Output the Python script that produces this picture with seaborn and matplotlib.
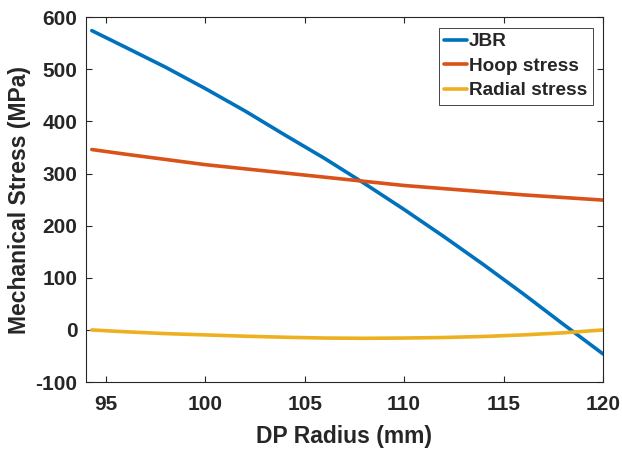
import matplotlib
matplotlib.use("Agg")
import matplotlib.pyplot as plt
import seaborn as sns
import pandas as pd

radius = [94.3, 96, 98, 100, 102, 104, 106, 108, 110, 112, 114, 116, 118, 120]
jbr = [574, 542, 504, 463, 420, 374, 329, 281, 231, 179, 125, 69, 11, -46]
hoop = [346, 337, 327, 317, 309, 301, 293, 285, 277, 271, 265, 259, 254, 249]
radial = [0, -3.5, -7, -9.5, -12, -14, -15.5, -16, -15.5, -14.5, -12.5, -9.5, -5.5, 0]
series_names = ["JBR", "Hoop stress", "Radial stress"]
colors = ["#0072BD", "#D95319", "#EDB120"]
xticks = [95, 100, 105, 110, 115, 120]
yticks = [-100, 0, 100, 200, 300, 400, 500, 600]

df = pd.DataFrame({
    "r": radius * 3,
    "v": jbr + hoop + radial,
    "s": [series_names[0]] * len(radius) + [series_names[1]] * len(radius) + [series_names[2]] * len(radius),
})

sns.set_style("ticks")
plt.rcParams["font.family"] = ["Liberation Sans", "DejaVu Sans"]
plt.rcParams["font.weight"] = "bold"
plt.rcParams["axes.unicode_minus"] = False

fig = plt.figure(figsize=(6.22, 4.49), dpi=100)
ax = fig.add_axes([0.138, 0.149, 0.9695 - 0.138, 0.962 - 0.149])
sns.lineplot(data=df, x="r", y="v", hue="s", hue_order=series_names,
             palette=colors, linewidth=2.6, ax=ax, sort=False)

ax.set_xlim(94.0, 120)
ax.set_ylim(-100, 600)
ax.set_xticks(xticks)
ax.set_yticks(yticks)
ax.set_xlabel("DP Radius (mm)", fontsize=16.5, fontweight="bold", color="#262626", va="center")
ax.set_ylabel("Mechanical Stress (MPa)", fontsize=16.5, fontweight="bold", color="#262626", va="center")
ax.xaxis.set_label_coords(0.5, -0.15)
ax.yaxis.set_label_coords(-0.128, 0.5)
ax.tick_params(direction="in", top=True, right=True, labelsize=15, length=4,
               color="#262626", labelcolor="#262626", width=0.8)
ax.tick_params(axis="x", pad=9.5)
ax.tick_params(axis="y", pad=6)
for lab in ax.get_xticklabels() + ax.get_yticklabels():
    lab.set_fontweight("bold")
for sp in ax.spines.values():
    sp.set_visible(True)
    sp.set_color("#262626")
    sp.set_linewidth(0.8)

leg = ax.legend(loc="upper right", fontsize=13.7, frameon=True, fancybox=False,
                handlelength=1.2, handletextpad=0.1, borderpad=0.28, labelspacing=0.38,
                borderaxespad=0.55, edgecolor="#262626", framealpha=1)
leg.get_frame().set_linewidth(0.6)
for t in leg.get_texts():
    t.set_fontweight("bold")
for l in leg.get_lines():
    l.set_linewidth(2.6)

fig.savefig("out.png", dpi=100)
